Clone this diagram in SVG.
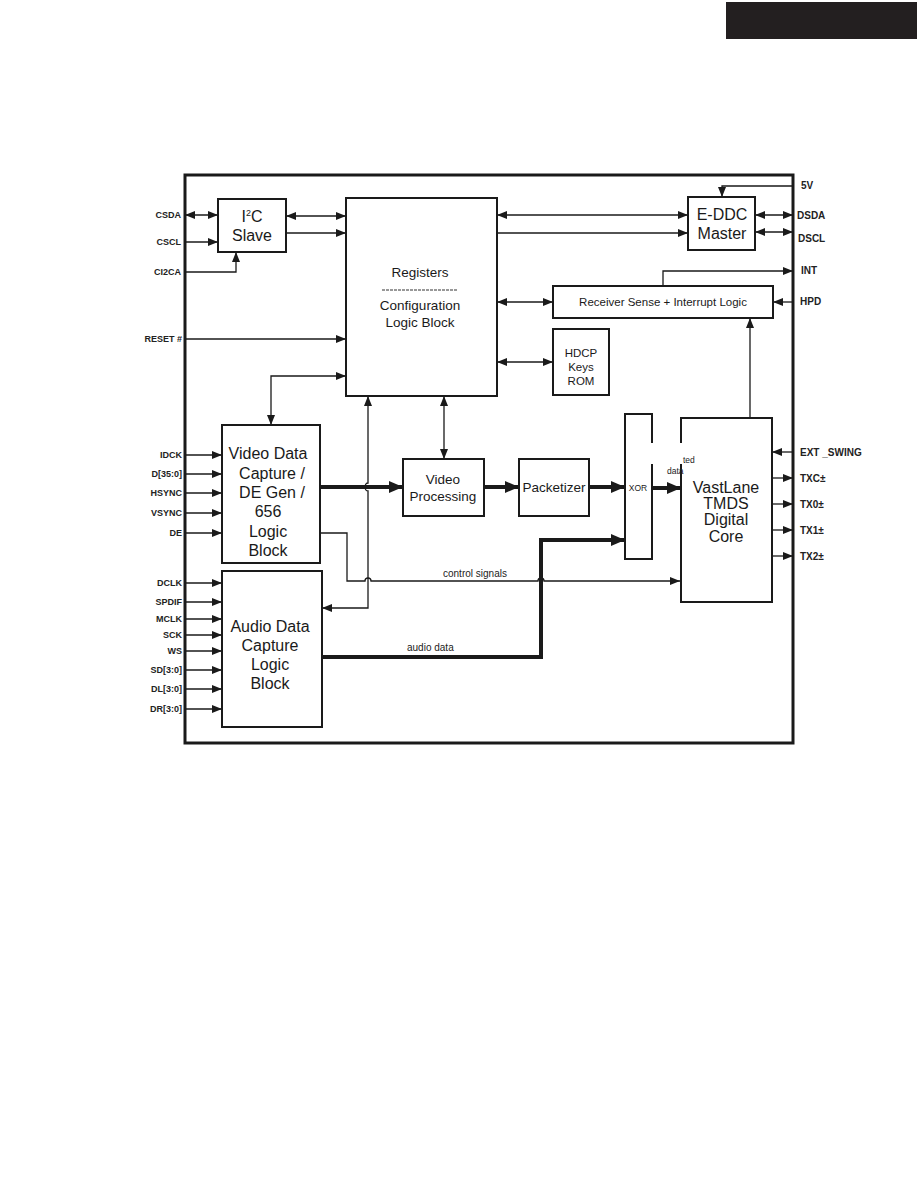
<svg xmlns="http://www.w3.org/2000/svg" width="918" height="1188" viewBox="0 0 918 1188">
<style>
.box{fill:#fff;stroke:#1a1a1a;stroke-width:2}
.frame{fill:none;stroke:#1a1a1a;stroke-width:3}
.w{fill:none;stroke:#1a1a1a;stroke-width:1.3}
.bus{fill:none;stroke:#1a1a1a;stroke-width:4}
.big{font-family:"Liberation Sans",Arial,sans-serif;font-size:16px;fill:#1a1a1a;text-anchor:middle}
.mid{font-family:"Liberation Sans",Arial,sans-serif;font-size:13.5px;fill:#1a1a1a;text-anchor:middle}
.sm{font-family:"Liberation Sans",Arial,sans-serif;font-size:11.5px;fill:#1a1a1a;text-anchor:middle}
.lbl{font-family:"Liberation Sans",Arial,sans-serif;font-size:9px;font-weight:bold;fill:#222}
.rl{font-family:"Liberation Sans",Arial,sans-serif;font-size:10px;font-weight:bold;fill:#222}
.l{text-anchor:end}
.tiny{font-family:"Liberation Sans",Arial,sans-serif;font-size:8.5px;fill:#222}
.cap{font-family:"Liberation Sans",Arial,sans-serif;font-size:10px;fill:#222}
</style>
<defs>
<marker id="a" markerUnits="userSpaceOnUse" markerWidth="10" markerHeight="8" refX="10" refY="4" orient="auto-start-reverse"><path d="M0,0 L10,4 L0,8 Z" fill="#1a1a1a"/></marker>
<marker id="b" markerUnits="userSpaceOnUse" markerWidth="14" markerHeight="12" refX="14" refY="6" orient="auto-start-reverse"><path d="M0,0 L14,6 L0,12 Z" fill="#1a1a1a"/></marker>
</defs>
<rect x="726" y="2" width="191" height="37" fill="#231f20"/>
<rect class="frame" x="185" y="175" width="608" height="568"/>

<g id="connectors">
<line class="w" x1="185" y1="215" x2="218" y2="215" marker-start="url(#a)" marker-end="url(#a)"/>
<line class="w" x1="185" y1="242" x2="218" y2="242" marker-end="url(#a)"/>
<polyline class="w" points="185,272 236,272 236,252" marker-end="url(#a)"/>
<line class="w" x1="286" y1="216" x2="346" y2="216" marker-start="url(#a)" marker-end="url(#a)"/>
<line class="w" x1="286" y1="233" x2="346" y2="233" marker-end="url(#a)"/>
<line class="w" x1="185" y1="339" x2="346" y2="339" marker-end="url(#a)"/>
<polyline class="w" points="271,425 271,376 346,376" marker-start="url(#a)" marker-end="url(#a)"/>
<path class="w" d="M368,396 V483 a3,4 0 0 0 0,8 V608 H322" marker-start="url(#a)" marker-end="url(#a)"/>
<line class="w" x1="444" y1="396" x2="444" y2="459" marker-start="url(#a)" marker-end="url(#a)"/>
<line class="w" x1="497" y1="215" x2="688" y2="215" marker-start="url(#a)" marker-end="url(#a)"/>
<line class="w" x1="497" y1="233" x2="688" y2="233" marker-end="url(#a)"/>
<polyline class="w" points="793,186 722,186 722,197" marker-end="url(#a)"/>
<line class="w" x1="755" y1="215" x2="793" y2="215" marker-start="url(#a)" marker-end="url(#a)"/>
<line class="w" x1="755" y1="232" x2="793" y2="232" marker-start="url(#a)" marker-end="url(#a)"/>
<polyline class="w" points="663,286 663,271 793,271" marker-end="url(#a)"/>
<line class="w" x1="793" y1="302" x2="773" y2="302" marker-end="url(#a)"/>
<line class="w" x1="497" y1="302" x2="553" y2="302" marker-start="url(#a)" marker-end="url(#a)"/>
<line class="w" x1="497" y1="362" x2="553" y2="362" marker-start="url(#a)" marker-end="url(#a)"/>
<line class="w" x1="750" y1="418" x2="750" y2="318" marker-end="url(#a)"/>
<line class="w" x1="793" y1="452" x2="772" y2="452" marker-end="url(#a)"/>
<line class="w" x1="772" y1="478" x2="793" y2="478" marker-end="url(#a)"/>
<line class="w" x1="772" y1="504" x2="793" y2="504" marker-end="url(#a)"/>
<line class="w" x1="772" y1="530" x2="793" y2="530" marker-end="url(#a)"/>
<line class="w" x1="772" y1="556" x2="793" y2="556" marker-end="url(#a)"/>
<line class="w" x1="185" y1="455" x2="222" y2="455" marker-end="url(#a)"/>
<line class="w" x1="185" y1="474" x2="222" y2="474" marker-end="url(#a)"/>
<line class="w" x1="185" y1="493" x2="222" y2="493" marker-end="url(#a)"/>
<line class="w" x1="185" y1="513" x2="222" y2="513" marker-end="url(#a)"/>
<line class="w" x1="185" y1="533" x2="222" y2="533" marker-end="url(#a)"/>
<line class="w" x1="185" y1="583" x2="222" y2="583" marker-end="url(#a)"/>
<line class="w" x1="185" y1="602" x2="222" y2="602" marker-end="url(#a)"/>
<line class="w" x1="185" y1="619" x2="222" y2="619" marker-end="url(#a)"/>
<line class="w" x1="185" y1="635" x2="222" y2="635" marker-end="url(#a)"/>
<line class="w" x1="185" y1="651" x2="222" y2="651" marker-end="url(#a)"/>
<line class="w" x1="185" y1="670" x2="222" y2="670" marker-end="url(#a)"/>
<line class="w" x1="185" y1="689" x2="222" y2="689" marker-end="url(#a)"/>
<line class="w" x1="185" y1="709" x2="222" y2="709" marker-end="url(#a)"/>
<path class="w" d="M320,533 H347 V581 H365 a3,3 0 0 1 6,0 H538 a3,3 0 0 1 6,0 H680" marker-end="url(#a)"/>
<line class="bus" x1="320" y1="487" x2="403" y2="487" marker-end="url(#b)"/>
<line class="bus" x1="484" y1="487" x2="519" y2="487" marker-end="url(#b)"/>
<line class="bus" x1="589" y1="487" x2="625" y2="487" marker-end="url(#b)"/>
<line class="bus" x1="652" y1="488" x2="681" y2="488" marker-end="url(#b)"/>
<polyline class="bus" points="322,657 541,657 541,540 625,540" marker-end="url(#b)"/>
</g>

<g id="i2c"><rect class="box" x="218" y="199" width="68" height="53"/>
<text class="big" x="252" y="222">I<tspan font-size="9" dy="-6">2</tspan><tspan dy="6">C</tspan></text>
<text class="big" x="252" y="241">Slave</text></g>

<g id="registers"><rect class="box" x="346" y="198" width="151" height="198"/>
<text class="mid" x="420" y="277">Registers</text>
<line x1="382" y1="290" x2="457" y2="290" stroke="#333" stroke-width="1.2" stroke-dasharray="3,1"/>
<text class="mid" x="420" y="310">Configuration</text>
<text class="mid" x="420" y="327">Logic Block</text></g>

<g id="eddc"><rect class="box" x="688" y="197" width="67" height="53"/>
<text class="big" x="722" y="220">E-DDC</text>
<text class="big" x="722" y="239">Master</text></g>

<g id="receiver"><rect class="box" x="553" y="286" width="220" height="32"/>
<text class="sm" x="663" y="306">Receiver Sense  + Interrupt Logic</text></g>

<g id="hdcp"><rect class="box" x="553" y="329" width="56" height="66"/>
<text class="sm" x="581" y="357">HDCP</text>
<text class="sm" x="581" y="371">Keys</text>
<text class="sm" x="581" y="385">ROM</text></g>

<g id="video"><rect class="box" x="222" y="425" width="98" height="138"/>
<text class="big" x="268" y="459">Video Data</text>
<text class="big" x="272" y="479">Capture /</text>
<text class="big" x="272" y="498">DE Gen /</text>
<text class="big" x="268" y="517">656</text>
<text class="big" x="268" y="537">Logic</text>
<text class="big" x="268" y="556">Block</text></g>

<g id="audio"><rect class="box" x="222" y="571" width="100" height="156"/>
<text class="big" x="270" y="632">Audio Data</text>
<text class="big" x="270" y="651">Capture</text>
<text class="big" x="270" y="670">Logic</text>
<text class="big" x="270" y="689">Block</text></g>

<g id="videoproc"><rect class="box" x="403" y="459" width="81" height="57"/>
<text class="mid" x="443" y="484">Video</text>
<text class="mid" x="443" y="501">Processing</text></g>

<g id="packetizer"><rect class="box" x="519" y="459" width="70" height="57"/>
<text class="mid" x="554" y="492">Packetizer</text></g>

<g id="xor"><rect class="box" x="625" y="414" width="27" height="145"/>
<text class="tiny" x="638" y="491" text-anchor="middle">XOR</text></g>

<g id="vastlane"><rect class="box" x="681" y="418" width="91" height="184"/>
<text class="big" x="726" y="493">VastLane</text>
<text class="big" x="726" y="509">TMDS</text>
<text class="big" x="726" y="525">Digital</text>
<text class="big" x="726" y="542">Core</text></g>

<g id="encdata">
<rect x="651" y="443" width="32" height="21" fill="#fff"/>
<text class="tiny" x="683" y="463">ted</text>
<text class="tiny" x="667" y="474">data</text></g>

<g id="labels">
<text class="lbl l" x="181" y="218">CSDA</text>
<text class="lbl l" x="181" y="245">CSCL</text>
<text class="lbl l" x="181" y="275">CI2CA</text>
<text class="lbl l" x="182" y="342">RESET #</text>
<text class="lbl l" x="182" y="458">IDCK</text>
<text class="lbl l" x="182" y="477">D[35:0]</text>
<text class="lbl l" x="182" y="496">HSYNC</text>
<text class="lbl l" x="182" y="516">VSYNC</text>
<text class="lbl l" x="182" y="536">DE</text>
<text class="lbl l" x="182" y="586">DCLK</text>
<text class="lbl l" x="182" y="605">SPDIF</text>
<text class="lbl l" x="182" y="622">MCLK</text>
<text class="lbl l" x="182" y="638">SCK</text>
<text class="lbl l" x="182" y="654">WS</text>
<text class="lbl l" x="182" y="673">SD[3:0]</text>
<text class="lbl l" x="182" y="692">DL[3:0]</text>
<text class="lbl l" x="182" y="712">DR[3:0]</text>
<text class="rl" x="801" y="189">5V</text>
<text class="rl" x="797" y="219">DSDA</text>
<text class="rl" x="798" y="242">DSCL</text>
<text class="rl" x="801" y="274">INT</text>
<text class="rl" x="800" y="305">HPD</text>
<text class="rl" x="800" y="456">EXT _SWING</text>
<text class="rl" x="800" y="482">TXC±</text>
<text class="rl" x="800" y="508">TX0±</text>
<text class="rl" x="800" y="534">TX1±</text>
<text class="rl" x="800" y="560">TX2±</text>
<text class="cap" x="443" y="577">control signals</text>
<text class="cap" x="407" y="651">audio data</text>
</g>
</svg>
